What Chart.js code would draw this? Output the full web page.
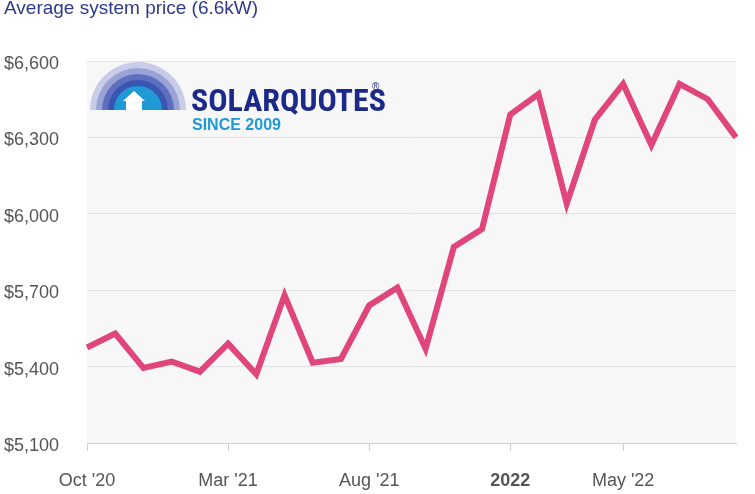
<!DOCTYPE html>
<html><head><meta charset="utf-8">
<script src="https://cdn.jsdelivr.net/npm/chart.js@4/dist/chart.umd.min.js"></script>
<style>body{margin:0;background:#fff;font-family:Arial,"Liberation Sans",sans-serif}
#t{position:absolute;left:4px;top:-3px;font-size:19px;color:#2d3a8c}
#w{position:absolute;left:0;top:0;width:755px;height:494px}</style></head>
<body><div id="w"><canvas id="c" width="755" height="494"></canvas></div>
<div id="t">Average system price (6.6kW)</div>
<script>
const months=["Oct '20","Nov '20","Dec '20","Jan '21","Feb '21","Mar '21","Apr '21","May '21","Jun '21","Jul '21","Aug '21","Sep '21","Oct '21","Nov '21","Dec '21","2022","Feb '22","Mar '22","Apr '22","May '22","Jun '22","Jul '22","Aug '22","Sep '22"];
const prices=[5475,5530,5395,5420,5380,5490,5370,5680,5415,5430,5640,5710,5470,5870,5940,6390,6470,6040,6370,6510,6270,6510,6450,6300];
const shownTicks=["Oct '20","Mar '21","Aug '21","2022","May '22"];
const yTicks=[5100,5400,5700,6000,6300,6600];
const logo={id:'logo',afterDraw(ch){const c=ch.ctx;c.save();
 const cx=138,cy=110;const cols=['#c9cce8','#9aa3d6','#5e6fc0','#3b56b0','#1f9ad6'];
 [48,42,36,30,24].forEach((r,i)=>{c.beginPath();c.arc(cx,cy,r,Math.PI,0);c.fillStyle=cols[i];c.fill();});
 c.fillStyle='#fff';c.beginPath();c.moveTo(123,101);c.lineTo(134,91);c.lineTo(145,101);c.lineTo(142,101);c.lineTo(142,110);c.lineTo(126,110);c.lineTo(126,101);c.closePath();c.fill();
 c.fillStyle='#1b2a8a';c.font='bold 32px "Liberation Sans Narrow","Roboto Condensed",sans-serif';c.textBaseline='alphabetic';c.fillText('SOLARQUOTES',191,111);
 c.font='10px Arial';c.fillText('®',372,90);
 c.fillStyle='#1f9ad6';c.font='bold 16px Arial';c.fillText('SINCE 2009',192,130);c.restore();}};
const bg={id:'bg',beforeDraw(ch){const a=ch.chartArea,c=ch.ctx;c.save();c.fillStyle='#f7f7f7';c.fillRect(a.left,a.top,a.right-a.left,a.bottom-a.top);c.restore();}};
new Chart(document.getElementById('c'),{type:'line',
 data:{labels:months,datasets:[{data:prices,borderColor:'#e0457b',borderWidth:6,pointRadius:0,tension:0,borderJoinStyle:'miter'}]},
 options:{responsive:false,animation:false,layout:{padding:{top:61,right:12,left:4,bottom:0}},
 plugins:{legend:{display:false},tooltip:{enabled:false}},
 scales:{x:{offset:false,afterFit:(s)=>{s.height=51;},grid:{display:true,drawOnChartArea:false,color:(c)=>shownTicks.includes(months[c.index])?'#cfcfcf':'rgba(0,0,0,0)',tickLength:8},border:{color:'#cfcfcf'},
   ticks:{autoSkip:false,maxRotation:0,padding:19,color:'#555',font:(c)=>({size:18,family:'Arial',weight:(months[c.index]==='2022')?'bold':'normal'}),
   callback:(v,i)=>shownTicks.includes(months[i])?months[i]:''}},
  y:{min:5100,max:6600,afterBuildTicks:(s)=>{s.ticks=yTicks.map(v=>({value:v}));},afterFit:(s)=>{s.width=83;},
   grid:{color:'#e2e2e2',drawTicks:false},border:{display:false},
   ticks:{padding:0,labelOffset:-6,align:'start',crossAlign:'far',color:'#555',font:{size:18,family:'Arial'},callback:v=>'$'+v.toLocaleString('en-US')}}}},
 plugins:[bg,logo]});
</script></body></html>
